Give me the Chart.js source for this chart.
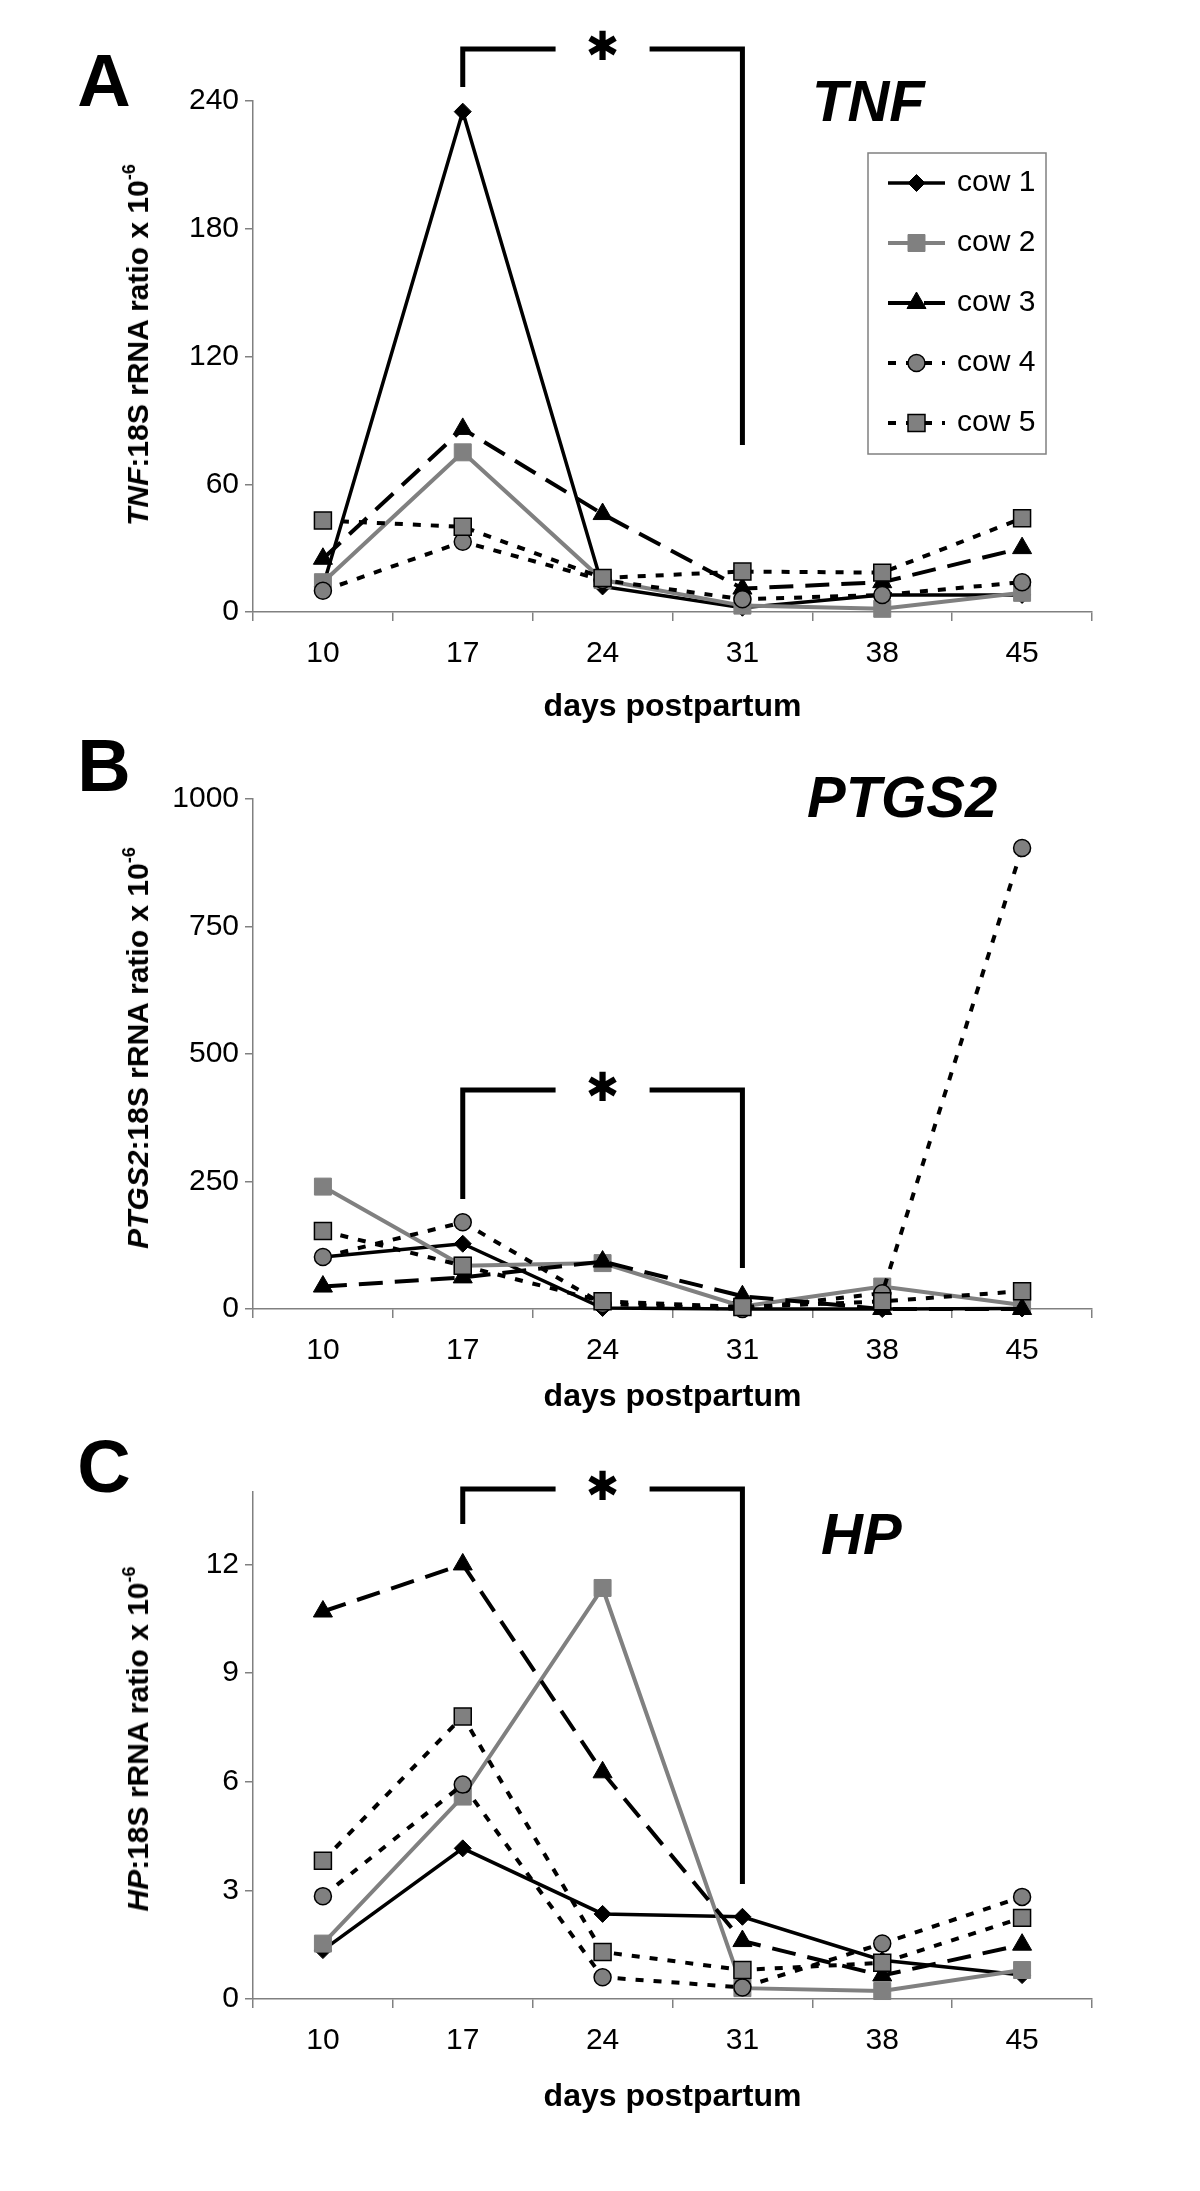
<!DOCTYPE html>
<html>
<head>
<meta charset="utf-8">
<script src="https://cdn.jsdelivr.net/npm/chart.js@4.4.0/dist/chart.umd.min.js"></script>
<style>
  body { margin: 0; background: #fff; }
  #page { position: relative; width: 1200px; height: 2191px; font-family: "Liberation Sans", Arial, sans-serif; }
  canvas { position: absolute; left: 0; }
  .lbl { position: absolute; line-height: 1; white-space: nowrap; color: #000; }
  .panel { font-weight: bold; font-size: 74px; transform: translate(-50%, -50%); }
  .gene { font-weight: bold; font-style: italic; font-size: 58px; transform: translateY(-50%); }
  .ytitle { font-weight: bold; font-size: 30px; transform: translate(-50%, -50%) rotate(-90deg); }
  .ytitle sup { font-size: 0.6em; vertical-align: 0.75em; line-height: 0; }
</style>
</head>
<body>
<div id="page">
  <canvas id="chartA" width="1200" height="730" style="top:0px"></canvas>
  <canvas id="chartB" width="1200" height="700" style="top:730px"></canvas>
  <canvas id="chartC" width="1200" height="761" style="top:1430px"></canvas>

  <div class="lbl panel" style="left:104px; top:81px">A</div>
  <div class="lbl panel" style="left:104px; top:766px">B</div>
  <div class="lbl panel" style="left:104px; top:1467px">C</div>

  <div class="lbl gene" style="left:812px; top:101px">TNF</div>
  <div class="lbl gene" style="left:807px; top:797px">PTGS2</div>
  <div class="lbl gene" style="left:821px; top:1534px">HP</div>

  <div class="lbl ytitle" style="left:138px; top:345px"><i>TNF</i>:18S rRNA ratio x 10<sup>-6</sup></div>
  <div class="lbl ytitle" style="left:138px; top:1048px"><i>PTGS2</i>:18S rRNA ratio x 10<sup>-6</sup></div>
  <div class="lbl ytitle" style="left:138px; top:1739px"><i>HP</i>:18S rRNA ratio x 10<sup>-6</sup></div>
</div>

<script>
// days postpartum (categories)
const days = ['10', '17', '24', '31', '38', '45'];
const cowNames = ['cow 1', 'cow 2', 'cow 3', 'cow 4', 'cow 5'];

// TNF:18S rRNA ratio x 10^-6, one row per cow
const tnfValues = [
  [12, 235, 12, 2, 8, 8],
  [14, 75, 15, 3, 1.5, 9],
  [25, 86, 46, 11, 14, 30],
  [10, 33, 15, 6, 8, 14],
  [43, 40, 16, 19, 18.5, 44]
];
const tnfTicks = [0, 60, 120, 180, 240];
const tnfMax = 240;

// PTGS2:18S rRNA ratio x 10^-6
const ptgs2Values = [
  [102, 128, 2, 0, 0, 1],
  [240, 85, 90, 5, 44, 8],
  [44, 62, 93, 25, 0, 0],
  [102, 170, 10, 0, 31, 904],
  [153, 85, 15, 4, 15, 35]
];
const ptgs2Ticks = [0, 250, 500, 750, 1000];
const ptgs2Max = 1000;

// HP:18S rRNA ratio x 10^-6
const hpValues = [
  [1.35, 4.16, 2.35, 2.27, 1.07, 0.66],
  [1.53, 5.59, 11.35, 0.3, 0.22, 0.8],
  [10.7, 12.0, 6.26, 1.6, 0.65, 1.5],
  [2.84, 5.92, 0.6, 0.32, 1.53, 2.82],
  [3.82, 7.8, 1.3, 0.8, 1.0, 2.24]
];
const hpTicks = [0, 3, 6, 9, 12];
const hpMax = 14;

const FONT = '"Liberation Sans", Arial, sans-serif';
const GRAY = '#808080';

const cowStyles = [
  { line: '#000', width: 3.5, dash: [], point: 'rectRot', radius: 8.5, fill: '#000', edge: '#000', edgeW: 1 },
  { line: GRAY, width: 4, dash: [], point: 'rect', radius: 12, fill: GRAY, edge: GRAY, edgeW: 1 },
  { line: '#000', width: 4, dash: [24, 12], point: 'triangle', radius: 11, fill: '#000', edge: '#000', edgeW: 1 },
  { line: '#000', width: 4, dash: [8, 10], point: 'circle', radius: 8.5, fill: GRAY, edge: '#000', edgeW: 1.5 },
  { line: '#000', width: 4, dash: [8, 10], point: 'rect', radius: 12, fill: GRAY, edge: '#000', edgeW: 1.5 }
];

function buildDatasets(values) {
  return values.map((vals, i) => {
    const s = cowStyles[i];
    return {
      label: cowNames[i],
      data: vals,
      borderColor: s.line,
      borderWidth: s.width,
      borderDash: s.dash,
      pointStyle: s.point,
      pointRadius: s.radius,
      pointBackgroundColor: s.fill,
      pointBorderColor: s.edge,
      pointBorderWidth: s.edgeW,
      tension: 0,
      fill: false,
      clip: false,
      order: values.length - 1 - i // later cows drawn on top, as in the original
    };
  });
}

function drawMarker(ctx, style, r, x, y) {
  ctx.beginPath();
  if (style === 'circle') {
    ctx.arc(x, y, r, 0, Math.PI * 2);
  } else if (style === 'rect') {
    const s = r * Math.SQRT1_2;
    ctx.rect(x - s, y - s, 2 * s, 2 * s);
  } else if (style === 'rectRot') {
    ctx.moveTo(x - r, y); ctx.lineTo(x, y - r); ctx.lineTo(x + r, y); ctx.lineTo(x, y + r);
    ctx.closePath();
  } else if (style === 'triangle') {
    for (let k = 0; k < 3; k++) {
      const a = k * 2 * Math.PI / 3;
      const px = x + Math.sin(a) * r, py = y - Math.cos(a) * r;
      if (k === 0) ctx.moveTo(px, py); else ctx.lineTo(px, py);
    }
    ctx.closePath();
  }
  ctx.fill();
  ctx.stroke();
}

// significance bracket with the asterisk
const bracketPlugin = {
  id: 'bracket',
  afterDraw(chart, args, opts) {
    const ctx = chart.ctx;
    const xs = chart.scales.x;
    const x1 = xs.getPixelForValue(opts.from);
    const x2 = xs.getPixelForValue(opts.to);
    const mid = (x1 + x2) / 2;
    ctx.save();
    ctx.strokeStyle = '#000';
    ctx.lineWidth = 5;
    ctx.lineJoin = 'miter';
    ctx.beginPath();
    ctx.moveTo(x1, opts.leftEnd);
    ctx.lineTo(x1, opts.top);
    ctx.lineTo(mid - opts.gap, opts.top);
    ctx.moveTo(mid + opts.gap, opts.top);
    ctx.lineTo(x2, opts.top);
    ctx.lineTo(x2, opts.rightEnd);
    ctx.stroke();
    ctx.fillStyle = '#000';
    ctx.font = 'bold 40px "DejaVu Sans"';
    ctx.textAlign = 'center';
    ctx.textBaseline = 'middle';
    ctx.fillText('\u2731', mid, opts.top + 1);
    ctx.restore();
  }
};

// boxed legend with line samples (only panel A has one)
const cowLegendPlugin = {
  id: 'cowLegend',
  afterDraw(chart, args, opts) {
    if (!opts.box) return;
    const ctx = chart.ctx;
    const [bx, by, bw, bh] = opts.box;
    ctx.save();
    ctx.fillStyle = '#fff';
    ctx.fillRect(bx, by, bw, bh);
    ctx.strokeStyle = GRAY;
    ctx.lineWidth = 1.5;
    ctx.strokeRect(bx, by, bw, bh);
    chart.data.datasets.forEach((ds, i) => {
      const y = by + opts.firstRow + i * opts.rowGap;
      const x0 = bx + opts.lineStart;
      const x1 = x0 + opts.lineLen;
      ctx.save();
      ctx.strokeStyle = ds.borderColor;
      ctx.lineWidth = ds.borderWidth;
      ctx.setLineDash(ds.borderDash);
      ctx.beginPath();
      ctx.moveTo(x0, y);
      ctx.lineTo(x1, y);
      ctx.stroke();
      ctx.restore();
      ctx.fillStyle = ds.pointBackgroundColor;
      ctx.strokeStyle = ds.pointBorderColor;
      ctx.lineWidth = ds.pointBorderWidth;
      ctx.setLineDash([]);
      drawMarker(ctx, ds.pointStyle, ds.pointRadius, (x0 + x1) / 2, y);
      ctx.fillStyle = '#000';
      ctx.font = '30px ' + FONT;
      ctx.textAlign = 'left';
      ctx.textBaseline = 'middle';
      ctx.fillText(ds.label, bx + opts.textStart, y);
    });
    ctx.restore();
  }
};

function makeChart(id, values, tickList, maxVal, geom, bracket, legend) {
  return new Chart(document.getElementById(id), {
    type: 'line',
    data: { labels: days, datasets: buildDatasets(values) },
    options: {
      responsive: false,
      animation: false,
      devicePixelRatio: 1,
      events: [],
      layout: { padding: { top: geom.top, right: 1200 - geom.right, left: 0, bottom: 0 } },
      plugins: {
        legend: { display: false },
        tooltip: { enabled: false },
        bracket: bracket,
        cowLegend: legend || {}
      },
      scales: {
        x: {
          offset: true,
          grid: { offset: true, drawOnChartArea: false, tickLength: 9, color: GRAY, lineWidth: 1.5 },
          border: { color: GRAY, width: 1.5 },
          ticks: { color: '#000', font: { family: FONT, size: 30 }, padding: 15, maxRotation: 0 },
          title: {
            display: true,
            text: 'days postpartum',
            color: '#000',
            font: { family: FONT, size: 32, weight: 'bold' },
            padding: { top: 0, bottom: geom.titlePad }
          },
          afterFit: s => { s.height = geom.height - geom.bottom; }
        },
        y: {
          min: 0,
          max: maxVal,
          afterBuildTicks: s => { s.ticks = tickList.map(v => ({ value: v })); },
          grid: { drawOnChartArea: false, tickLength: 8, color: GRAY, lineWidth: 1.5 },
          border: { color: GRAY, width: 1.5 },
          ticks: { color: '#000', font: { family: FONT, size: 30 }, padding: 6, callback: v => String(v) },
          afterFit: s => { s.width = geom.left; }
        }
      }
    },
    plugins: [bracketPlugin, cowLegendPlugin]
  });
}

makeChart('chartA', tnfValues, tnfTicks, tnfMax,
  { top: 101, bottom: 612, left: 253, right: 1092, height: 730, titlePad: 4 },
  { from: 1, to: 3, top: 49, leftEnd: 87, rightEnd: 445, gap: 47 },
  { box: [868, 153, 178, 301], firstRow: 30, rowGap: 60, lineStart: 20, lineLen: 57, textStart: 89 });

makeChart('chartB', ptgs2Values, ptgs2Ticks, ptgs2Max,
  { top: 69, bottom: 579, left: 253, right: 1092, height: 700, titlePad: 14 },
  { from: 1, to: 3, top: 360, leftEnd: 469, rightEnd: 538, gap: 47 });

makeChart('chartC', hpValues, hpTicks, hpMax,
  { top: 62, bottom: 569, left: 253, right: 1092, height: 761, titlePad: 75 },
  { from: 1, to: 3, top: 59, leftEnd: 94, rightEnd: 454, gap: 47 });
</script>
</body>
</html>
